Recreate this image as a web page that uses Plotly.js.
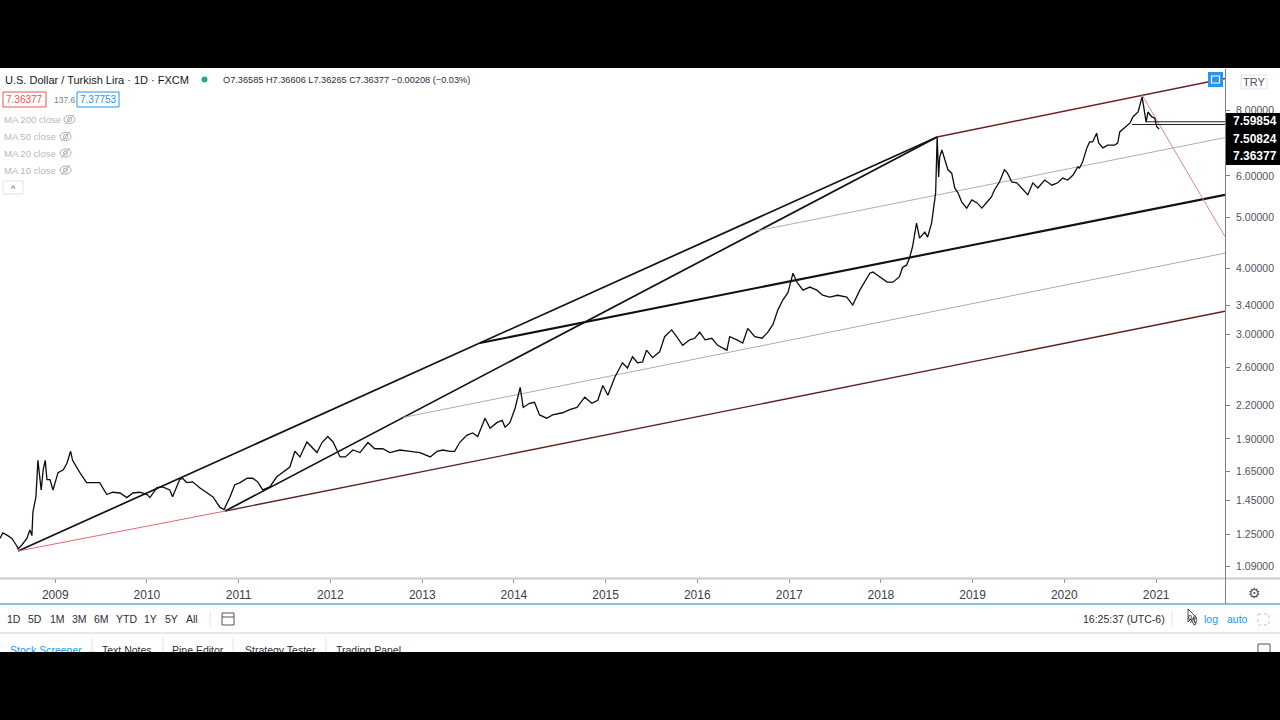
<!DOCTYPE html>
<html><head><meta charset="utf-8">
<script src="https://cdn.plot.ly/plotly-3.0.1.min.js"></script>
<style>
html,body{margin:0;padding:0;background:#000;width:1280px;height:720px;overflow:hidden}
#chart{position:absolute;left:0;top:0;width:1280px;height:720px}
.band{position:absolute;left:0;width:1280px;background:#000;z-index:10}
</style></head><body>
<div id="chart"></div>
<div class="band" style="top:0;height:68px"></div>
<div class="band" style="top:652px;height:68px"></div>
<script>
// ---------- DATA ----------
const priceDates = [
'2008-05-26','2008-06-06','2008-06-26','2008-07-12','2008-08-01','2008-08-06','2008-08-21','2008-09-10','2008-09-22','2008-09-30',
'2008-10-04','2008-10-16','2008-10-24','2008-11-06','2008-11-14','2008-11-22','2008-11-29','2008-12-11','2008-12-23','2009-01-12',
'2009-02-02','2009-02-17','2009-03-03','2009-03-11','2009-04-09','2009-05-06','2009-05-30','2009-06-27','2009-07-25','2009-08-18',
'2009-09-16','2009-10-13','2009-11-06','2009-12-04','2010-01-01','2010-01-13','2010-02-10','2010-03-04','2010-04-02','2010-04-13',
'2010-05-11','2010-05-23','2010-06-08','2010-07-02','2010-07-30','2010-08-28','2010-09-21','2010-10-18','2010-11-04','2010-11-28',
'2010-12-17','2011-01-07','2011-02-04','2011-02-26','2011-03-18','2011-04-07','2011-05-05','2011-06-02','2011-06-26','2011-07-24',
'2011-08-13','2011-09-02','2011-09-30','2011-10-19','2011-11-09','2011-11-29','2011-12-22','2012-01-12','2012-02-09','2012-03-01',
'2012-03-31','2012-04-28','2012-05-30','2012-06-26','2012-07-28','2012-08-25','2012-10-04','2012-11-14','2012-12-23','2013-02-02',
'2013-03-01','2013-03-24','2013-04-21','2013-05-10','2013-05-30','2013-06-27','2013-07-21','2013-08-10','2013-09-08','2013-09-28',
'2013-10-25','2013-11-15','2013-11-27','2013-12-16','2014-01-06','2014-01-26','2014-02-07','2014-03-04','2014-03-24','2014-04-13',
'2014-05-11','2014-06-04','2014-07-14','2014-08-11','2014-09-09','2014-10-10','2014-11-07','2014-12-01','2014-12-21','2015-01-10',
'2015-02-07','2015-03-09','2015-03-29','2015-04-18','2015-05-08','2015-05-28','2015-06-13','2015-07-07','2015-08-04','2015-08-24',
'2015-09-21','2015-10-11','2015-11-04','2015-12-02','2015-12-22','2016-01-11','2016-02-01','2016-02-28','2016-03-22','2016-04-28',
'2016-05-09','2016-06-07','2016-06-30','2016-07-20','2016-08-17','2016-09-15','2016-10-08','2016-10-28','2016-11-17','2016-12-07',
'2016-12-27','2017-01-16','2017-02-02','2017-02-25','2017-03-24','2017-04-21','2017-05-14','2017-06-11','2017-07-13','2017-08-18',
'2017-09-11','2017-10-09','2017-10-29','2017-11-18','2017-11-30','2017-12-28','2018-01-26','2018-02-18','2018-03-16','2018-03-28',
'2018-04-13','2018-04-25','2018-05-07','2018-05-23','2018-06-04','2018-06-25','2018-07-06','2018-07-22','2018-07-30','2018-08-07',
'2018-08-13','2018-08-19','2018-08-23','2018-09-01','2018-09-13','2018-09-25','2018-10-10','2018-10-22','2018-11-04','2018-11-19',
'2018-12-09','2018-12-29','2019-01-19','2019-02-07','2019-02-28','2019-03-17','2019-03-29','2019-04-18','2019-05-08','2019-05-20',
'2019-06-06','2019-06-26','2019-07-15','2019-08-09','2019-08-29','2019-09-18','2019-10-15','2019-11-13','2019-12-06','2019-12-26',
'2020-01-15','2020-02-05','2020-02-24','2020-03-02','2020-03-14','2020-03-31','2020-04-11','2020-04-23','2020-05-09','2020-05-17',
'2020-06-03','2020-06-22','2020-07-20','2020-08-01','2020-08-09','2020-08-30','2020-09-19','2020-09-30','2020-10-21','2020-11-06',
'2020-11-09','2020-11-22','2020-11-29','2020-12-15','2020-12-26','2021-01-04','2021-01-13'
];
const priceClose = [
1.23,1.26,1.245,1.23,1.19,1.175,1.195,1.23,1.276,1.245,
1.38,1.475,1.73,1.52,1.66,1.73,1.59,1.59,1.52,1.64,
1.66,1.71,1.80,1.73,1.64,1.57,1.57,1.57,1.49,1.505,
1.50,1.47,1.50,1.505,1.49,1.47,1.535,1.54,1.52,1.475,
1.59,1.60,1.57,1.575,1.535,1.505,1.475,1.41,1.395,1.475,
1.555,1.57,1.60,1.60,1.575,1.52,1.54,1.61,1.645,1.68,
1.80,1.756,1.875,1.83,1.79,1.87,1.92,1.875,1.756,1.756,
1.81,1.79,1.87,1.82,1.82,1.79,1.81,1.80,1.79,1.756,
1.80,1.81,1.80,1.80,1.87,1.93,1.95,1.92,2.08,1.99,
2.04,2.06,2.00,2.04,2.175,2.38,2.18,2.22,2.23,2.11,
2.08,2.11,2.13,2.16,2.18,2.28,2.22,2.25,2.40,2.30,
2.49,2.65,2.59,2.72,2.65,2.66,2.80,2.71,2.78,2.97,
3.06,2.97,2.86,2.93,2.95,3.03,2.93,2.95,2.86,2.80,
2.97,2.93,2.89,3.08,2.97,2.95,3.03,3.13,3.34,3.49,
3.60,3.92,3.76,3.64,3.69,3.64,3.56,3.53,3.56,3.53,
3.41,3.64,3.77,3.92,3.94,3.86,3.77,3.77,3.86,4.02,
4.06,4.19,4.40,4.88,4.57,4.69,4.59,4.88,5.24,5.57,
7.10,5.97,6.51,6.72,6.43,6.16,6.07,5.69,5.57,5.35,
5.21,5.40,5.33,5.21,5.35,5.47,5.64,5.84,6.16,6.07,
5.84,5.82,5.69,5.52,5.82,5.69,5.89,5.76,5.82,5.94,
5.89,6.02,6.24,6.21,6.37,6.78,6.96,6.96,7.23,6.93,
6.78,6.86,6.86,6.93,7.27,7.43,7.56,7.76,7.93,8.47,
8.28,7.59,7.93,7.76,7.72,7.43,7.36377
];

// Drawn trendlines (start/end date and price)
const trendStartDate  = ['2008-08-06','2010-11-08','2013-08-19','2008-08-06','2010-11-08','2018-08-13','2012-10-17','2016-08-29','2020-11-06','2020-11-22','2020-09-26'];
const trendStartPrice = [1.164, 1.386, 2.89, 1.164, 1.386, 7.11, 2.087, 4.72, 8.54, 7.59854, 7.50824];
const trendEndDate    = ['2018-08-13','2018-08-13','2021-10-02','2010-11-08','2021-10-02','2021-10-02','2021-10-02','2021-10-02','2021-10-02','2021-10-02','2021-10-02'];
const trendEndPrice   = [7.11, 7.11, 5.52, 1.386, 3.32, 9.18, 4.28, 7.09, 4.60, 7.59854, 7.50824];

const yTickVals  = [1.09,1.25,1.45,1.65,1.9,2.2,2.6,3.0,3.4,4,5,6,8];
const yTickText  = ['1.09000','1.25000','1.45000','1.65000','1.90000','2.20000','2.60000','3.00000','3.40000','4.00000','5.00000','6.00000','8.00000'];
const xTickVals  = ['2009-01-01','2010-01-01','2011-01-01','2012-01-01','2013-01-01','2014-01-01','2015-01-01','2016-01-01','2017-01-01','2018-01-01','2019-01-01','2020-01-01','2021-01-01'];
const xTickText  = ['2009','2010','2011','2012','2013','2014','2015','2016','2017','2018','2019','2020','2021'];
const priceLabels = ['7.59854','7.50824','7.36377'];

// ---------- STYLES ----------
const trendStyles = [
 {color:'#111111', width:1.7},
 {color:'#111111', width:1.7},
 {color:'#111111', width:2.1},
 {color:'#e06a6a', width:1},
 {color:'#5e1f1f', width:1.4},
 {color:'#6a2222', width:1.4},
 {color:'#a5a5a5', width:0.9},
 {color:'#a5a5a5', width:0.9},
 {color:'#d98a8a', width:1},
 {color:'#222222', width:1},
 {color:'#222222', width:1}
];

const L=0, T=69, PW=1225, PH=509;
const px = x => (x-L)/PW;
const py = y => (T+PH-y)/PH;
const FONT = 'Liberation Sans, Arial, sans-serif';

const traces = [];
for (let i=0;i<trendStartDate.length;i++){
  traces.push({type:'scatter', mode:'lines', x:[trendStartDate[i],trendEndDate[i]], y:[trendStartPrice[i],trendEndPrice[i]],
    line:{color:trendStyles[i].color, width:trendStyles[i].width}, hoverinfo:'skip', showlegend:false, cliponaxis:true});
}
traces.push({type:'scatter', mode:'lines', x:priceDates, y:priceClose, line:{color:'#0d0d0d', width:1.3}, showlegend:false, hoverinfo:'skip'});

const shapes = [];
const annotations = [];
function rect(x0,y0,x1,y1,o){shapes.push(Object.assign({type:'rect',xref:'paper',yref:'paper',x0:px(x0),x1:px(x1),y0:py(y0),y1:py(y1),layer:'above'},o));}
function line(x0,y0,x1,y1,color,w){shapes.push({type:'line',xref:'paper',yref:'paper',x0:px(x0),x1:px(x1),y0:py(y0),y1:py(y1),line:{color:color,width:w},layer:'above'});}
function circ(x0,y0,x1,y1,o){shapes.push(Object.assign({type:'circle',xref:'paper',yref:'paper',x0:px(x0),x1:px(x1),y0:py(y0),y1:py(y1),layer:'above'},o));}
function ann(x,y,text,size,color,o){annotations.push(Object.assign({xref:'paper',yref:'paper',x:px(x),y:py(y),text:text,showarrow:false,xanchor:'left',yanchor:'middle',font:{family:FONT,size:size,color:color}},o||{}));}

// axis frame lines
line(0,578.5,1280,578.5,'#c9cbd1',2);
line(1225.5,69,1225.5,604,'#7d808a',1);
line(0,604,1280,604,'#5aaee6',1.5);
line(0,633,1280,633,'#e6e8ee',2);

// header
ann(3,80.5,'U.S. Dollar / Turkish Lira · 1D · FXCM',11,'#131722');
circ(201.5,76.5,207.5,82.5,{fillcolor:'#26a69a',line:{width:0}});
ann(221,80.5,'O7.36585 H7.36606 L7.36265 C7.36377 −0.00208 (−0.03%)',9.2,'#2a2e39');
rect(3,92,46,107,{line:{color:'#ef5350',width:1},fillcolor:'rgba(0,0,0,0)'});
ann(24.5,99.5,'7.36377',10,'#ef5350',{xanchor:'center'});
ann(52,99.5,'137.6',8.5,'#787b86');
rect(77,92,119,107,{line:{color:'#2196f3',width:1},fillcolor:'rgba(0,0,0,0)'});
ann(98,99.5,'7.37753',10,'#2196f3',{xanchor:'center'});
const maNames=['MA 200 close','MA 50 close','MA 20 close','MA 10 close'];
const maY=[119.5,136.5,153,170];
const eyeX=[64,60,60,60];
for(let i=0;i<4;i++){
  ann(2,maY[i],maNames[i],9.5,'#b6b9c2');
  circ(eyeX[i],maY[i]-4,eyeX[i]+11,maY[i]+4,{line:{color:'#a8abb4',width:1},fillcolor:'rgba(0,0,0,0)'});
  circ(eyeX[i]+3.5,maY[i]-2,eyeX[i]+7.5,maY[i]+2,{line:{color:'#a8abb4',width:1},fillcolor:'rgba(0,0,0,0)'});
  line(eyeX[i]+1,maY[i]+5,eyeX[i]+10,maY[i]-5,'#a8abb4',1);
}
rect(3,181,23,194,{line:{color:'#e0e3eb',width:1},fillcolor:'#ffffff'});
ann(13,188.5,'^',9,'#555',{xanchor:'center'});

// right axis widgets
rect(1241,75,1267,89,{line:{color:'#e0e3eb',width:1},fillcolor:'#ffffff'});
ann(1254,82,'TRY',11,'#50535e',{xanchor:'center'});
rect(1208,72,1223,87,{line:{width:0},fillcolor:'#2196f3'});
rect(1211.5,76,1219.5,83,{line:{color:'#ffffff',width:1.2},fillcolor:'rgba(0,0,0,0)'});
rect(1226,113,1280,165,{line:{width:0},fillcolor:'#000000'});
const plY=[121.5,138.5,156];
for(let i=0;i<3;i++){ ann(1231,plY[i],'<b>'+priceLabels[i]+'</b>',12,'#ffffff'); }
ann(1254,593,'⚙',14,'#50535e',{xanchor:'center'});

// toolbar
const tb=['1D','5D','1M','3M','6M','YTD','1Y','5Y','All'];
const tbX=[14,35,57,79,101,126,150,171,192];
for(let i=0;i<tb.length;i++) ann(tbX[i],619,tb[i],10.5,'#2a2e39',{xanchor:'center'});
line(210,611,210,627,'#e0e3eb',1);
rect(222,613,234,625,{line:{color:'#50535e',width:1},fillcolor:'rgba(0,0,0,0)'});
line(222,617,234,617,'#50535e',1);
ann(1123.5,619,'16:25:37 (UTC-6)',10.5,'#2a2e39',{xanchor:'center'});
line(1172,611,1172,627,'#e0e3eb',1);
ann(1192,619,'%',10.5,'#2a2e39',{xanchor:'center'});
ann(1211,619,'log',10.5,'#2196f3',{xanchor:'center'});
ann(1238,619,'auto',10.5,'#2196f3',{xanchor:'center'});
rect(1258,614,1269,625,{line:{color:'#a8c8e8',width:1,dash:'dot'},fillcolor:'rgba(0,0,0,0)'});
shapes.push({type:'path',xref:'paper',yref:'paper',layer:'above',
  path:'M '+px(1188)+','+py(609)+' L '+px(1188)+','+py(622)+' L '+px(1191)+','+py(619)+' L '+px(1194)+','+py(625)+' L '+px(1196)+','+py(624)+' L '+px(1193)+','+py(618)+' L '+px(1197)+','+py(618)+' Z',
  fillcolor:'#ffffff',line:{color:'#222',width:0.8}});

// bottom panel
ann(8,650,'Stock Screener  ⌄',10.5,'#2196f3');
line(92,637,92,652,'#e0e3eb',1);
ann(127,650,'Text Notes',10.5,'#2a2e39',{xanchor:'center'});
line(163,637,163,652,'#e0e3eb',1);
ann(198,650,'Pine Editor',10.5,'#2a2e39',{xanchor:'center'});
line(233,637,233,652,'#e0e3eb',1);
ann(280,650,'Strategy Tester',10.5,'#2a2e39',{xanchor:'center'});
line(326,637,326,652,'#e0e3eb',1);
ann(368,650,'Trading Panel',10.5,'#2a2e39',{xanchor:'center'});
rect(1258,644,1270,654,{line:{color:'#50535e',width:1},fillcolor:'rgba(0,0,0,0)'});

const layout = {
  width:1280, height:720,
  margin:{l:0,r:55,t:69,b:142,pad:0},
  paper_bgcolor:'#ffffff', plot_bgcolor:'#ffffff',
  showlegend:false, hovermode:false,
  xaxis:{type:'date', range:['2008-05-26','2021-10-02'], tickvals:xTickVals, ticktext:xTickText,
    showgrid:false, zeroline:false, showline:false, ticks:'outside', ticklen:4, tickcolor:'#9598a1', tickwidth:1,
    tickfont:{family:FONT,size:12,color:'#3b3e47'}, ticklabelstandoff:2, fixedrange:true},
  yaxis:{type:'log', side:'right', range:[Math.log10(1.0345), Math.log10(9.57)], tickvals:yTickVals, ticktext:yTickText,
    showgrid:false, zeroline:false, showline:false, ticks:'outside', ticklen:4, tickcolor:'#7d808a', tickwidth:1,
    tickfont:{family:FONT,size:10.5,color:'#50535e'}, ticklabelstandoff:4, fixedrange:true},
  shapes:shapes, annotations:annotations
};
Plotly.newPlot('chart', traces, layout, {staticPlot:true, displayModeBar:false});
</script></body></html>
